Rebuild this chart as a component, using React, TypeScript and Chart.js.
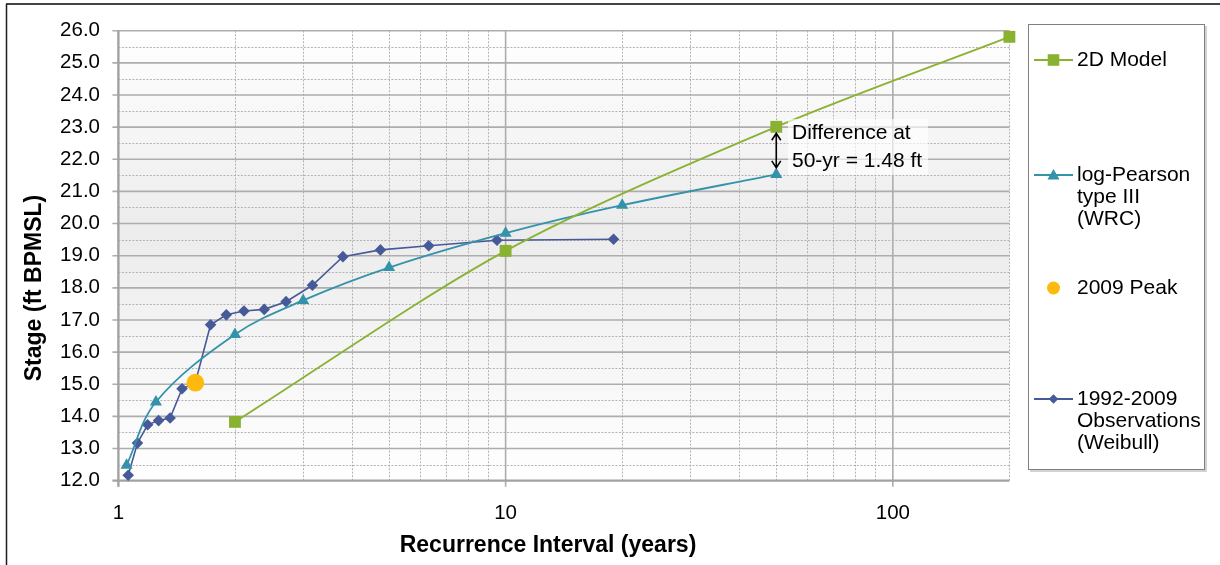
import { useEffect, useRef } from 'react';
import { Chart, registerables } from 'chart.js';

Chart.register(...registerables);

// Recurrence interval (years) and stage (ft BPMSL) for each series
const MODEL_X = [2, 10, 50, 200];
const MODEL_Y = [13.83, 19.15, 23.01, 25.81];

const LP3_X = [1.05, 1.25, 2, 3, 5, 10, 20, 50];
const LP3_Y = [12.48, 14.45, 16.55, 17.61, 18.63, 19.7, 20.57, 21.53];

const PEAK_X = [1.58];
const PEAK_Y = [15.05];

const OBS_X = [1.06, 1.12, 1.19, 1.27, 1.36, 1.46, 1.58, 1.73, 1.9, 2.11, 2.38, 2.71, 3.17, 3.8, 4.75, 6.33, 9.5, 19.0];
const OBS_Y = [12.17, 13.17, 13.74, 13.87, 13.95, 14.86, 15.05, 16.85, 17.16, 17.28, 17.33, 17.57, 18.08, 18.97, 19.18, 19.31, 19.48, 19.51];

// Axis ticks
const X_TICKS = [1, 10, 100];
const X_MINOR = [2, 3, 4, 5, 6, 7, 8, 9, 20, 30, 40, 50, 60, 70, 80, 90, 200];
const Y_MIN = 12;
const Y_MAX = 26;

// Annotated return period
const DIFF_AT = 50;
const DIFF_LINES = ['Difference at', '50-yr = 1.48 ft'];

const GREEN = '#8AB232';
const TEAL = '#3492AA';
const NAVY = '#465998';
const ORANGE = '#FFB80C';
const FONT = '"Liberation Sans", Arial, sans-serif';

const LEGEND = [
  { lines: ['2D Model'], color: GREEN, marker: 'rect', line: true, y: 60 },
  { lines: ['log-Pearson', 'type III', '(WRC)'], color: TEAL, marker: 'triangle', line: true, y: 175 },
  { lines: ['2009 Peak'], color: ORANGE, marker: 'circle', line: false, y: 288 },
  { lines: ['1992-2009', 'Observations', '(Weibull)'], color: NAVY, marker: 'diamond', line: true, y: 399 },
];

const pts = (xs: number[], ys: number[]) => xs.map((x, i) => ({ x, y: ys[i] }));

function marker(ctx: CanvasRenderingContext2D, kind: string, x: number, y: number, s: number, color: string) {
  ctx.fillStyle = color;
  ctx.beginPath();
  if (kind === 'rect') {
    ctx.rect(x - s, y - s, 2 * s, 2 * s);
  } else if (kind === 'triangle') {
    ctx.moveTo(x, y - s);
    ctx.lineTo(x + s * 0.866, y + s * 0.5);
    ctx.lineTo(x - s * 0.866, y + s * 0.5);
    ctx.closePath();
  } else if (kind === 'diamond') {
    ctx.moveTo(x, y - s);
    ctx.lineTo(x + s, y);
    ctx.lineTo(x, y + s);
    ctx.lineTo(x - s, y);
    ctx.closePath();
  } else {
    ctx.arc(x, y, s, 0, Math.PI * 2);
  }
  ctx.fill();
}

const plotBackground = {
  id: 'plotBackground',
  beforeDatasetsDraw(chart: any) {
    const { ctx, chartArea: a, scales } = chart;
    const xs = scales.x;
    const ys = scales.y;
    ctx.save();
    const g = ctx.createLinearGradient(0, a.top, 0, a.bottom);
    g.addColorStop(0, '#ffffff');
    g.addColorStop(0.45, '#ececec');
    g.addColorStop(1, '#ffffff');
    ctx.fillStyle = g;
    ctx.fillRect(a.left, a.top, a.right - a.left, a.bottom - a.top);

    // minor dotted grid
    ctx.strokeStyle = '#b3b3b3';
    ctx.lineWidth = 1;
    ctx.setLineDash([2, 1.5]);
    ctx.beginPath();
    X_MINOR.forEach((v) => {
      const px = Math.round(xs.getPixelForValue(v)) + 0.5;
      ctx.moveTo(px, a.top);
      ctx.lineTo(px, a.bottom);
    });
    for (let v = Y_MIN + 0.5; v < Y_MAX; v += 1) {
      const py = Math.round(ys.getPixelForValue(v)) + 0.5;
      ctx.moveTo(a.left, py);
      ctx.lineTo(a.right, py);
    }
    ctx.stroke();
    ctx.setLineDash([]);

    // major grid with tick marks
    ctx.strokeStyle = '#adadad';
    ctx.lineWidth = 1.6;
    ctx.beginPath();
    X_TICKS.forEach((v) => {
      const px = xs.getPixelForValue(v);
      ctx.moveTo(px, a.top);
      ctx.lineTo(px, a.bottom + 6);
    });
    for (let v = Y_MIN + 1; v <= Y_MAX; v += 1) {
      const py = ys.getPixelForValue(v);
      ctx.moveTo(a.left - 6, py);
      ctx.lineTo(a.right, py);
    }
    ctx.stroke();

    // axis lines
    ctx.strokeStyle = '#a2a2a2';
    ctx.lineWidth = 2.2;
    ctx.beginPath();
    ctx.moveTo(a.left, a.top);
    ctx.lineTo(a.left, a.bottom + 6);
    ctx.moveTo(a.left - 6, a.bottom);
    ctx.lineTo(a.right, a.bottom);
    ctx.stroke();
    ctx.restore();
  },
};

const overlay = {
  id: 'overlay',
  afterDraw(chart: any) {
    const { ctx, scales } = chart;
    const xs = scales.x;
    const ys = scales.y;
    ctx.save();

    // outer frame
    ctx.strokeStyle = '#454545';
    ctx.lineWidth = 2;
    ctx.beginPath();
    ctx.moveTo(6, 4);
    ctx.lineTo(1220, 4);
    ctx.stroke();
    ctx.strokeStyle = '#1e1e1e';
    ctx.lineWidth = 1.5;
    ctx.beginPath();
    ctx.moveTo(6.5, 4);
    ctx.lineTo(6.5, 565);
    ctx.stroke();

    // axis titles
    ctx.fillStyle = '#000';
    ctx.font = `bold 23px ${FONT}`;
    ctx.textAlign = 'center';
    ctx.textBaseline = 'middle';
    ctx.fillText('Recurrence Interval (years)', 548, 546);
    ctx.save();
    ctx.translate(35, 288);
    ctx.rotate(-Math.PI / 2);
    ctx.fillText('Stage (ft BPMSL)', 0, 0);
    ctx.restore();

    // difference annotation at the 50-year return period
    const ax = xs.getPixelForValue(DIFF_AT);
    const yTop = ys.getPixelForValue(MODEL_Y[MODEL_X.indexOf(DIFF_AT)]) + 6.5;
    const yBot = ys.getPixelForValue(LP3_Y[LP3_X.indexOf(DIFF_AT)]) - 6.5;
    ctx.fillStyle = 'rgba(255,255,255,0.65)';
    ctx.fillRect(788, 119, 140, 56);
    ctx.strokeStyle = '#000';
    ctx.lineWidth = 1.6;
    ctx.beginPath();
    ctx.moveTo(ax, yTop);
    ctx.lineTo(ax, yBot);
    ctx.moveTo(ax - 4.5, yTop + 7);
    ctx.lineTo(ax, yTop);
    ctx.lineTo(ax + 4.5, yTop + 7);
    ctx.moveTo(ax - 4.5, yBot - 7);
    ctx.lineTo(ax, yBot);
    ctx.lineTo(ax + 4.5, yBot - 7);
    ctx.stroke();
    ctx.fillStyle = '#000';
    ctx.font = `21px ${FONT}`;
    ctx.textAlign = 'left';
    ctx.fillText(DIFF_LINES[0], 792, 133);
    ctx.fillText(DIFF_LINES[1], 792, 161);

    // legend
    ctx.fillStyle = '#ffffff';
    ctx.fillRect(1028, 24, 177, 446);
    ctx.strokeStyle = '#c4c4c4';
    ctx.lineWidth = 1.5;
    ctx.beginPath();
    ctx.moveTo(1206, 26);
    ctx.lineTo(1206, 471);
    ctx.lineTo(1030, 471);
    ctx.stroke();
    ctx.strokeStyle = '#7f7f7f';
    ctx.lineWidth = 1;
    ctx.strokeRect(1028.5, 24.5, 176, 445);
    LEGEND.forEach((e) => {
      if (e.line) {
        ctx.strokeStyle = e.color;
        ctx.lineWidth = 2;
        ctx.beginPath();
        ctx.moveTo(1034, e.y);
        ctx.lineTo(1073, e.y);
        ctx.stroke();
      }
      const size = e.marker === 'rect' ? 5.8 : e.marker === 'triangle' ? 7 : e.marker === 'circle' ? 6.5 : 4.8;
      marker(ctx, e.marker, 1053.5, e.marker === 'triangle' ? e.y + 1 : e.y, size, e.color);
      ctx.fillStyle = '#000';
      ctx.font = `21px ${FONT}`;
      ctx.textAlign = 'left';
      ctx.textBaseline = 'middle';
      e.lines.forEach((t, i) => ctx.fillText(t, 1077, e.y + i * 22));
    });
    ctx.restore();
  },
};

export default function App() {
  const ref = useRef<HTMLCanvasElement | null>(null);

  useEffect(() => {
    if (!ref.current) return;
    const chart = new Chart(ref.current, {
      type: 'scatter',
      data: {
        datasets: [
          {
            label: '2009 Peak',
            data: pts(PEAK_X, PEAK_Y),
            showLine: false,
            pointStyle: 'circle',
            pointRadius: 8.8,
            backgroundColor: ORANGE,
            borderColor: ORANGE,
            pointBorderWidth: 0,
            order: 0,
            clip: false,
          },
          {
            label: '2D Model',
            data: pts(MODEL_X, MODEL_Y),
            showLine: true,
            tension: 0.3,
            borderColor: GREEN,
            borderWidth: 1.8,
            pointStyle: 'rect',
            pointRadius: 8.4,
            backgroundColor: GREEN,
            pointBorderWidth: 0,
            order: 1,
            clip: false,
          },
          {
            label: 'log-Pearson type III (WRC)',
            data: pts(LP3_X, LP3_Y),
            showLine: true,
            tension: 0.35,
            borderColor: TEAL,
            borderWidth: 1.8,
            pointStyle: 'triangle',
            pointRadius: 7,
            backgroundColor: TEAL,
            pointBorderWidth: 0,
            order: 2,
            clip: false,
          },
          {
            label: '1992-2009 Observations (Weibull)',
            data: pts(OBS_X, OBS_Y),
            showLine: true,
            tension: 0,
            borderColor: NAVY,
            borderWidth: 1.6,
            pointStyle: 'rectRot',
            pointRadius: 5.8,
            backgroundColor: NAVY,
            pointBorderWidth: 0,
            order: 3,
            clip: false,
          },
        ],
      },
      options: {
        animation: false,
        responsive: false,
        devicePixelRatio: 1,
        events: [],
        layout: { padding: { left: 0, top: 21.9, right: 210.6, bottom: 0 } },
        plugins: { legend: { display: false }, tooltip: { enabled: false } },
        scales: {
          x: {
            type: 'logarithmic',
            min: 1,
            max: 200,
            grid: { display: false, drawTicks: false },
            border: { display: false },
            afterBuildTicks: (s: any) => {
              s.ticks = X_TICKS.map((v) => ({ value: v }));
            },
            afterFit: (s: any) => {
              s.height = 84.3;
            },
            ticks: {
              autoSkip: false,
              maxRotation: 0,
              padding: 20.5,
              color: '#000',
              font: { family: FONT, size: 20.5 },
              callback: (v: any) => String(v),
            },
          },
          y: {
            type: 'linear',
            min: Y_MIN,
            max: Y_MAX,
            grid: { display: false, drawTicks: false },
            border: { display: false },
            afterFit: (s: any) => {
              s.width = 118.4;
            },
            ticks: {
              stepSize: 1,
              padding: 18.4,
              color: '#000',
              font: { family: FONT, size: 20.5 },
              callback: (v: any) => Number(v).toFixed(1),
            },
          },
        },
      },
      plugins: [plotBackground, overlay],
    });
    return () => chart.destroy();
  }, []);

  return (
    <div style={{ position: 'absolute', left: 0, top: 0, width: 1220, height: 565, background: '#fff' }}>
      <canvas ref={ref} width={1220} height={565} style={{ display: 'block' }} />
    </div>
  );
}
